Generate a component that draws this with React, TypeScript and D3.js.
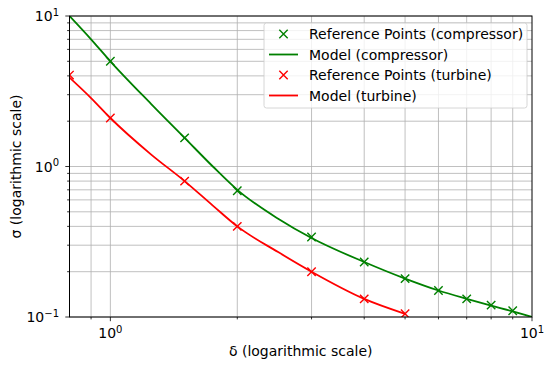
import React from "react";
import * as d3 from "d3";

const compRefX = [1, 1.5, 2, 3, 4, 5, 6, 7, 8, 9];
const compRefY = [5, 1.55, 0.69, 0.34, 0.232, 0.18, 0.15, 0.132, 0.12, 0.11];
const compModelX = [0.8, 0.9, 1, 1.25, 1.5, 1.75, 2, 2.5, 3, 4, 5, 6, 7, 8, 9, 10];
const compModelY = [10, 7, 5, 2.6, 1.55, 1.0, 0.7, 0.45, 0.335, 0.232, 0.18, 0.15, 0.132, 0.119, 0.109, 0.1];
const turbRefX = [0.8, 1, 1.5, 2, 3, 4, 5];
const turbRefY = [4.05, 2.1, 0.8, 0.4, 0.2, 0.132, 0.105];
const turbModelX = [0.8, 0.9, 1, 1.25, 1.5, 1.75, 2, 2.5, 3, 4, 5];
const turbModelY = [3.9, 2.85, 2.1, 1.2, 0.8, 0.55, 0.4, 0.27, 0.2, 0.132, 0.105];
const legendLabels = [
  "Reference Points (compressor)",
  "Model (compressor)",
  "Reference Points (turbine)",
  "Model (turbine)",
];
const xLabel = "δ (logarithmic scale)";
const yLabel = "σ (logarithmic scale)";

const W = 550, H = 368;
const L = 69.5, T = 16, R = 532, B = 317;
const FONT = "DejaVu Sans, sans-serif";
const GREEN = "#008000";
const RED = "#ff0000";
const FS = 14;
const SUP = 10;

export default function App() {
  const x = d3.scaleLog().domain([0.8, 10]).range([L, R]);
  const y = d3.scaleLog().domain([0.1, 10]).range([B, T]);

  const xMinor = [0.9, 2, 3, 4, 5, 6, 7, 8, 9];
  const yMinor: number[] = [];
  for (const d of [0.1, 1]) for (let k = 2; k <= 9; k++) yMinor.push(+(d * k).toFixed(3));
  const xMajor = [1];
  const yMajor = [0.1, 1, 10];

  const mkPath = (xs: number[], ys: number[]) =>
    d3
      .line<[number, number]>()
      .x((d) => x(d[0]))
      .y((d) => y(d[1]))
      .curve(d3.curveMonotoneX)(xs.map((v, i) => [v, ys[i]] as [number, number])) || "";

  const marker = (cx: number, cy: number, color: string, key: string) => {
    const s = 4.2;
    return (
      <path
        key={key}
        d={`M${cx - s},${cy - s}L${cx + s},${cy + s}M${cx - s},${cy + s}L${cx + s},${cy - s}`}
        stroke={color}
        strokeWidth={1.4}
        fill="none"
      />
    );
  };

  const gridColor = "#b0b0b0";
  const legX = 264, legY = 23, legW = 263, legH = 85;
  const rowY = [34, 54.5, 75, 95.5];

  return (
    <svg width={W} height={H} style={{ position: "absolute", left: 0, top: 0, background: "#fff" }}>
      <defs>
        <clipPath id="plotclip">
          <rect x={L} y={T} width={R - L} height={B - T} />
        </clipPath>
      </defs>
      <rect x={0} y={0} width={W} height={H} fill="#fff" />
      <g stroke={gridColor} strokeWidth={0.8}>
        {[...xMinor, ...xMajor].map((v) => (
          <line key={"gx" + v} x1={x(v)} x2={x(v)} y1={T} y2={B} />
        ))}
        {[...yMinor, ...yMajor].map((v) => (
          <line key={"gy" + v} x1={L} x2={R} y1={y(v)} y2={y(v)} />
        ))}
      </g>
      <g clipPath="url(#plotclip)">
        <path d={mkPath(compModelX, compModelY)} stroke={GREEN} strokeWidth={1.8} fill="none" />
        <path d={mkPath(turbModelX, turbModelY)} stroke={RED} strokeWidth={1.8} fill="none" />
        {compRefX.map((v, i) => marker(x(v), y(compRefY[i]), GREEN, "c" + i))}
        {turbRefX.map((v, i) => marker(x(v), y(turbRefY[i]), RED, "t" + i))}
      </g>
      <rect x={L} y={T} width={R - L} height={B - T} fill="none" stroke="#000" strokeWidth={1} />
      <g stroke="#000" strokeWidth={0.8}>
        {[...xMajor, 10].map((v) => (
          <line key={"tx" + v} x1={x(v)} x2={x(v)} y1={B} y2={B + 4.2} />
        ))}
        {xMinor.map((v) => (
          <line key={"mx" + v} x1={x(v)} x2={x(v)} y1={B} y2={B + 2.4} />
        ))}
        {yMajor.map((v) => (
          <line key={"ty" + v} x1={L} x2={L - 4.2} y1={y(v)} y2={y(v)} />
        ))}
        {yMinor.map((v) => (
          <line key={"my" + v} x1={L} x2={L - 2.4} y1={y(v)} y2={y(v)} />
        ))}
      </g>
      <g fontFamily={FONT} fontSize={FS} fill="#000">
        {[
          [1, "0"],
          [10, "1"],
        ].map(([v, e]) => (
          <text key={"lx" + v} x={x(v as number)} y={338} textAnchor="middle">
            10<tspan dy={-5.5} fontSize={SUP}>{e as string}</tspan>
          </text>
        ))}
        {[
          [0.1, "−1"],
          [1, "0"],
          [10, "1"],
        ].map(([v, e]) => (
          <text key={"ly" + v} x={L - 10.5} y={y(v as number) + 5} textAnchor="end">
            10<tspan dy={-5.5} fontSize={SUP}>{e as string}</tspan>
          </text>
        ))}
        <text x={(L + R) / 2} y={356} textAnchor="middle">
          {xLabel}
        </text>
        <text transform={`translate(21,${(T + B) / 2}) rotate(-90)`} textAnchor="middle">
          {yLabel}
        </text>
      </g>
      <rect x={legX} y={legY} width={legW} height={legH} rx={2.5} fill="#fff" fillOpacity={0.8} stroke="#cccccc" strokeWidth={0.8} />
      <g fontFamily={FONT} fontSize={FS} fill="#000">
        {legendLabels.map((lab, i) => {
          const color = i < 2 ? GREEN : RED;
          const isMarker = i % 2 === 0;
          return (
            <g key={lab}>
              {isMarker
                ? marker(283.5, rowY[i], color, "lm" + i)
                : <line x1={269} x2={298} y1={rowY[i]} y2={rowY[i]} stroke={color} strokeWidth={1.8} />}
              <text x={309} y={rowY[i] + 5}>{lab}</text>
            </g>
          );
        })}
      </g>
    </svg>
  );
}
